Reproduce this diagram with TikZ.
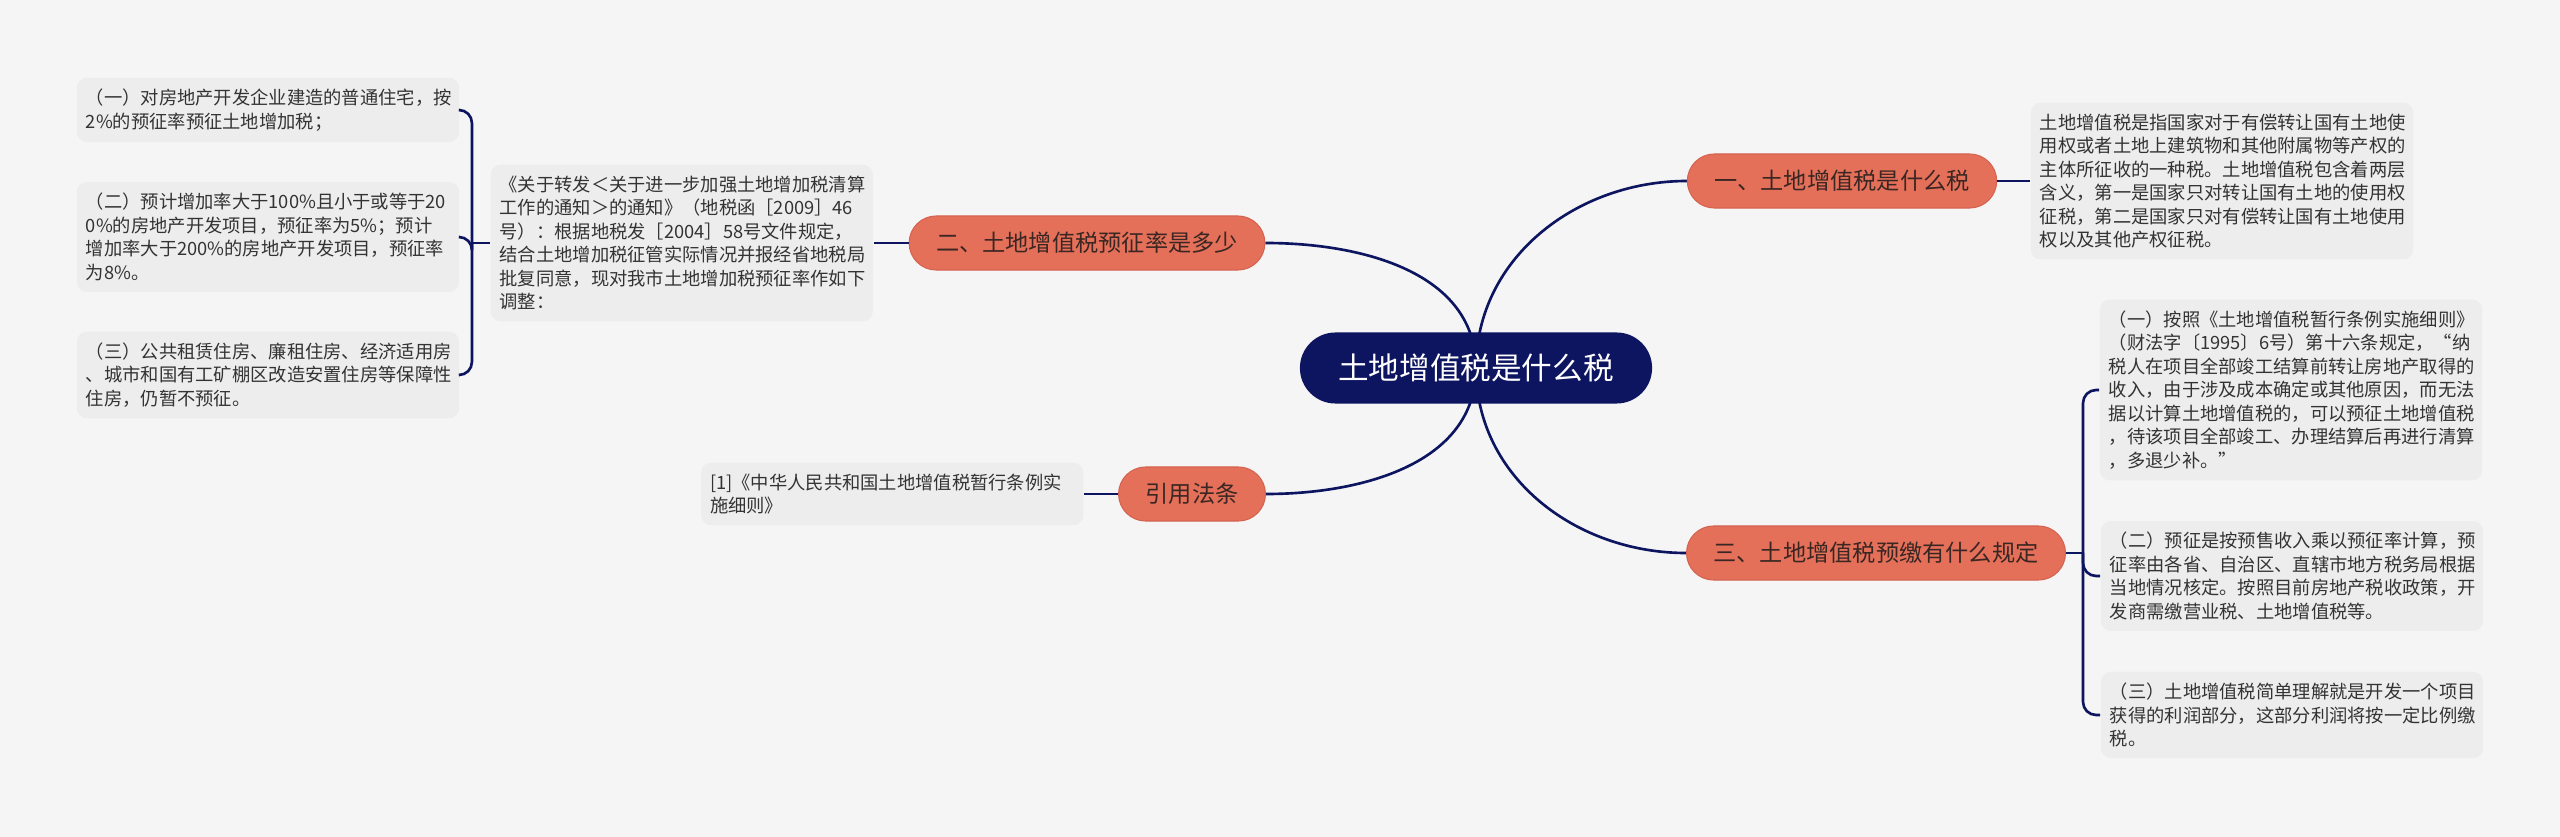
\documentclass[tikz,border=0pt]{standalone}
\usepackage{fontspec}
\setmainfont{Noto Sans CJK SC}
\usepackage{tikz}
\usetikzlibrary{positioning, calc}
\pgfdeclarelayer{background}
\pgfsetlayers{background,main}
\definecolor{bggray}{HTML}{F5F5F5}
\definecolor{notegray}{HTML}{EDEDED}
\definecolor{navy}{HTML}{0D1560}
\definecolor{coral}{HTML}{E5705A}
\definecolor{coraledge}{HTML}{D46350}
\definecolor{topictext}{HTML}{3A2622}
\definecolor{notetext}{HTML}{333333}

\begin{document}
\begin{tikzpicture}[
    x=0.01cm, y=0.01cm,
    hub/.style={rectangle, rounded corners=0.355cm, fill=navy, minimum width=3.52cm, minimum height=0.71cm, inner sep=0pt, text=white, font=\fontsize{8.7pt}{10pt}\selectfont},
    topic/.style={rectangle, rounded corners=0.27cm, fill=coral, draw=coraledge, line width=0.3pt, minimum height=0.54cm, inner xsep=0.27cm, inner ysep=0pt, text=topictext, font=\fontsize{6.6pt}{8pt}\selectfont},
    note/.style={rectangle, rounded corners=0.1cm, fill=notegray, text width=3.64cm, inner xsep=0.09cm, inner ysep=0.11cm, align=left, text=notetext, font=\fontsize{5.2pt}{6.7pt}\selectfont},
    link/.style={draw=navy, line width=0.75pt},
    brace/.style={link, rounded corners=0.13cm}
]
% Nodes
\node[hub] (c) at (1476,-368) {土地增值税是什么税};
\node[topic] (b1) at (1842,-181) {一、土地增值税是什么税};
\node[topic] (b2) at (1087,-243) {二、土地增值税预征率是多少};
\node[topic] (b3) at (1876,-553) {三、土地增值税预缴有什么规定};
\node[topic] (b4) at (1192,-494) {引用法条};

% Notes
\node[note, right=0.33cm of b1] (d1) {土地增值税是指国家对于有偿转让国有土地使\\用权或者土地上建筑物和其他附属物等产权的\\主体所征收的一种税。土地增值税包含着两层\\含义，第一是国家只对转让国有土地的使用权\\征税，第二是国家只对有偿转让国有土地使用\\权以及其他产权征税。};
\node[note, left=0.35cm of b2] (m2) {《关于转发＜关于进一步加强土地增加税清算\\工作的通知＞的通知》（地税函［2009］46\\号）：根据地税发［2004］58号文件规定，\\结合土地增加税征管实际情况并报经省地税局\\批复同意，现对我市土地增加税预征率作如下\\调整：};
\node[note, left=0.34cm of b4] (cite) {[1]《中华人民共和国土地增值税暂行条例实\\施细则》};

\node[note] (l1) at (268,-110) {（一）对房地产开发企业建造的普通住宅，按\\2\%的预征率预征土地增加税；};
\node[note] (l2) at (268,-237) {（二）预计增加率大于100\%且小于或等于20\\0\%的房地产开发项目，预征率为5\%；预计\\增加率大于200\%的房地产开发项目，预征率\\为8\%。};
\node[note] (l3) at (268,-375) {（三）公共租赁住房、廉租住房、经济适用房\\、城市和国有工矿棚区改造安置住房等保障性\\住房，仍暂不预征。};

\node[note] (r1) at (2291,-390) {（一）按照《土地增值税暂行条例实施细则》\\（财法字〔1995〕6号）第十六条规定，“纳\\税人在项目全部竣工结算前转让房地产取得的\\收入，由于涉及成本确定或其他原因，而无法\\据以计算土地增值税的，可以预征土地增值税\\，待该项目全部竣工、办理结算后再进行清算\\，多退少补。”};
\node[note] (r2) at (2292,-576) {（二）预征是按预售收入乘以预征率计算，预\\征率由各省、自治区、直辖市地方税务局根据\\当地情况核定。按照目前房地产税收政策，开\\发商需缴营业税、土地增值税等。};
\node[note] (r3) at (2292,-715) {（三）土地增值税简单理解就是开发一个项目\\获得的利润部分，这部分利润将按一定比例缴\\税。};

\coordinate[left=0.18cm of m2.west] (lj);
\coordinate[right=0.17cm of b3.east] (rj);

% Links
\begin{pgfonlayer}{background}
\fill[bggray] (0,0) rectangle (2560,-837);
\draw[link] (c.center) to[out=90, in=180] (b1.west);
\draw[link] (c.center) to[out=90, in=0] (b2.east);
\draw[link] (c.center) to[out=-90, in=180] (b3.west);
\draw[link] (c.center) to[out=-90, in=0] (b4.east);
\end{pgfonlayer}

\draw[link] (b1) -- (d1);
\draw[link] (b2) -- (m2);
\draw[link] (b4) -- (cite);
\draw[link] (m2.west) -- (lj);
\draw[brace] (lj) |- (l1.east);
\draw[brace] (lj) |- (l2.east);
\draw[brace] (lj) |- (l3.east);
\draw[link] (b3.east) -- (rj);
\draw[brace] (rj) |- (r1.west);
\draw[brace] (rj) |- (r2.west);
\draw[brace] (rj) |- (r3.west);
\end{tikzpicture}
\end{document}
